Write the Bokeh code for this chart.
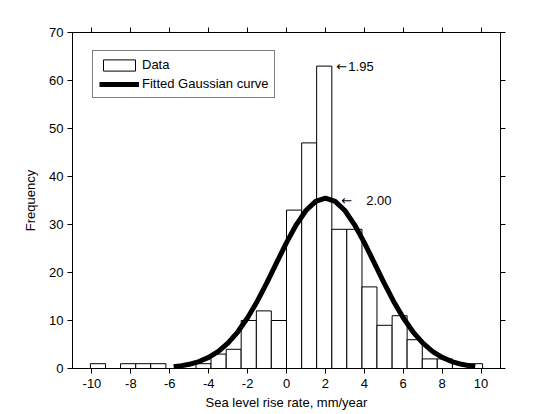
from bokeh.plotting import figure
from bokeh.models import ColumnDataSource, FixedTicker, LinearAxis, Range1d, Legend, LegendItem
from bokeh.core.properties import value
from bokeh.embed import file_html
from bokeh.resources import INLINE

# --- data ---
bin_edges = [-10.08, -9.30, -8.53, -7.75, -6.98, -6.20, -5.43, -4.65, -3.88, -3.10,
             -2.33, -1.55, -0.78, 0.00, 0.78, 1.55, 2.33, 3.10, 3.88, 4.65,
             5.43, 6.20, 6.98, 7.75, 8.53, 9.30, 10.08]
counts = [1, 0, 1, 1, 1, 0, 0, 1, 3, 4, 10, 12, 10, 33, 47, 63, 29, 29, 17, 9,
          11, 6, 2, 2, 1, 1]

curve_x = [-5.8, -5.5, -5.0, -4.5, -4.0, -3.5, -3.0, -2.5, -2.0, -1.5, -1.0, -0.5,
           0.0, 0.5, 1.0, 1.5, 2.0, 2.5, 3.0, 3.5, 4.0, 4.5, 5.0, 5.5, 6.0, 6.5,
           7.0, 7.5, 8.0, 8.5, 9.0, 9.5, 9.7]
curve_y = [0.35, 0.50, 0.87, 1.45, 2.32, 3.59, 5.34, 7.65, 10.57, 14.03, 17.95, 22.11,
           26.22, 29.94, 32.91, 34.83, 35.50, 34.83, 32.91, 29.94, 26.22, 22.11,
           17.95, 14.03, 10.57, 7.65, 5.34, 3.59, 2.32, 1.45, 0.87, 0.50, 0.40]

x_ticks = [-10, -8, -6, -4, -2, 0, 2, 4, 6, 8, 10]
x_tick_labels = ["-10", "-8", "-6", "-4", "-2", "0", "2", "4", "6", "8", "10"]
y_ticks = [0, 10, 20, 30, 40, 50, 60, 70]

arrow_x = [2.56, 2.82]
note_x = [3.18, 4.10]
note_y = [63.0, 35.1]
note_text = ["1.95", "2.00"]

FONT = "Liberation Sans"
FS = "13px"

p = figure(frame_width=428, frame_height=336,
           min_border_left=72, min_border_right=44, min_border_top=32, min_border_bottom=38,
           x_range=Range1d(-11, 11), y_range=Range1d(0, 70),
           output_backend="svg", toolbar_location=None)
p.grid.visible = False
p.outline_line_color = "black"
p.outline_line_width = 1
p.background_fill_color = "white"
p.border_fill_color = "white"

src = ColumnDataSource(dict(left=bin_edges[:-1], right=bin_edges[1:], top=counts,
                            bottom=[0] * len(counts)))
bars = p.quad(left="left", right="right", top="top", bottom="bottom", source=src,
              fill_color="white", line_color="black", line_width=1)
curve = p.line(curve_x, curve_y, line_color="black", line_width=5)

p.text(x=arrow_x, y=note_y, text=["\u2190"] * len(arrow_x), text_font=value("DejaVu Sans"),
       text_font_size=FS, text_align="left", text_baseline="middle", text_color="black")
p.text(x=note_x, y=note_y, text=note_text, text_font=value(FONT), text_font_size=FS,
       text_align="left", text_baseline="middle", text_color="black")

def style_axis(ax):
    ax.axis_line_color = "black"
    ax.major_tick_line_color = "black"
    ax.major_tick_out = 5
    ax.major_tick_in = 0
    ax.minor_tick_line_color = None
    ax.major_label_text_font = FONT
    ax.major_label_text_font_size = FS
    ax.major_label_text_color = "black"
    ax.axis_label_text_font = FONT
    ax.axis_label_text_font_size = FS
    ax.axis_label_text_font_style = "normal"
    ax.axis_label_text_color = "black"

xa = p.xaxis[0]
xa.ticker = FixedTicker(ticks=x_ticks)
xa.major_label_overrides = {t: s for t, s in zip(x_ticks, x_tick_labels)}
xa.axis_label = "Sea level rise rate, mm/year"
style_axis(xa)
xa.major_label_standoff = 5
xa.axis_label_standoff = 4

ya = p.yaxis[0]
ya.ticker = FixedTicker(ticks=y_ticks)
ya.axis_label = "Frequency"
style_axis(ya)
ya.major_label_standoff = 4
ya.axis_label_standoff = 8

top_ax = LinearAxis(ticker=FixedTicker(ticks=x_ticks))
style_axis(top_ax)
top_ax.major_label_overrides = {t: "" for t in x_ticks}
top_ax.major_label_standoff = 0
p.add_layout(top_ax, "above")
right_ax = LinearAxis(ticker=FixedTicker(ticks=y_ticks))
style_axis(right_ax)
right_ax.major_label_overrides = {t: "" for t in y_ticks}
right_ax.major_label_standoff = 0
p.add_layout(right_ax, "right")

legend = Legend(items=[LegendItem(label="Data", renderers=[bars]),
                       LegendItem(label="Fitted Gaussian curve", renderers=[curve])],
                location=(20, 270))
legend.label_text_font = FONT
legend.label_text_font_size = FS
legend.label_text_color = "black"
legend.border_line_color = "black"
legend.border_line_width = 1
legend.background_fill_alpha = 1
legend.glyph_width = 40
legend.glyph_height = 14
legend.label_height = 14
legend.label_standoff = 3
legend.padding = 6
legend.spacing = 4
legend.margin = 0
p.add_layout(legend)

open("out.html", "w").write(file_html(p, INLINE))
